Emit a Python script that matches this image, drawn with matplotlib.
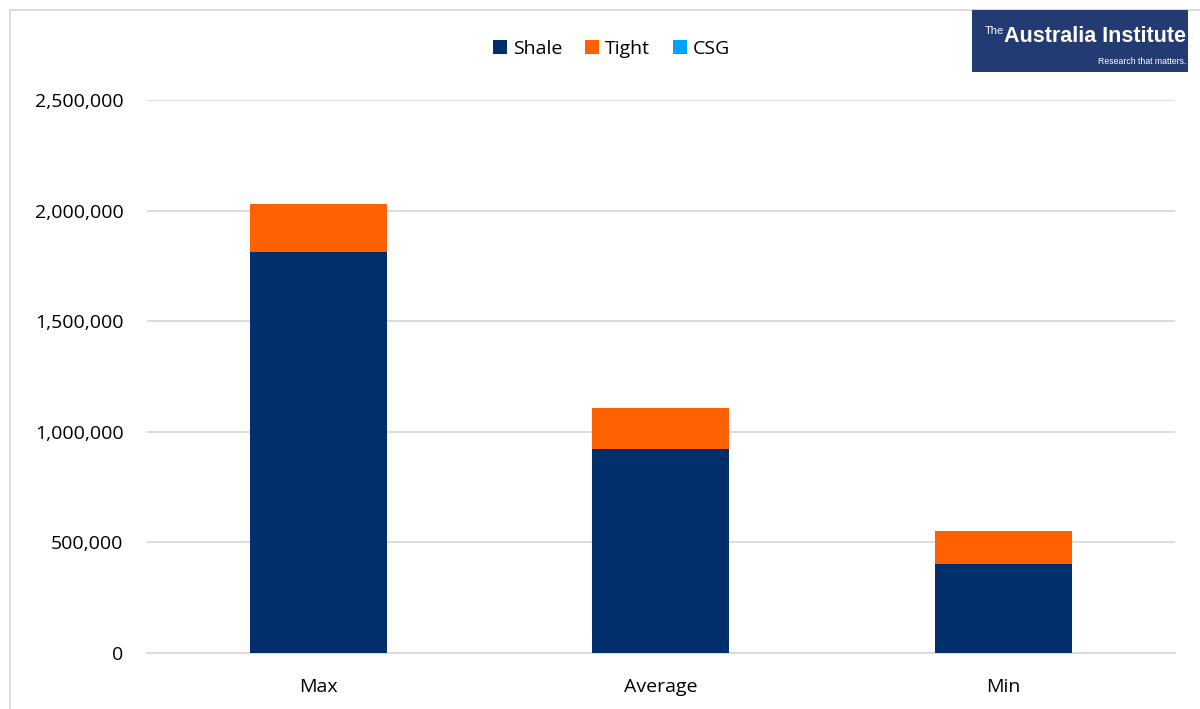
import matplotlib.pyplot as plt
from matplotlib.patches import Rectangle

categories = ['Max', 'Average', 'Min']
shale = [1812000, 922000, 402000]
tight = [217000, 185000, 149000]
csg = [0, 0, 0]

plt.rcParams['font.family'] = ['Open Sans', 'DejaVu Sans']

fig = plt.figure(figsize=(12, 7.09), dpi=100)
ax = fig.add_axes([0.1225, 0.079, 0.8565, 0.78])

x = range(len(categories))
w = 0.4
ax.bar(x, shale, w, color='#002F6C', label='Shale', zorder=3)
ax.bar(x, tight, w, bottom=shale, color='#FF6000', label='Tight', zorder=3)
bottoms = [s + t for s, t in zip(shale, tight)]
ax.bar(x, csg, w, bottom=bottoms, color='#00A2FF', label='CSG', zorder=3)

ax.set_xlim(-0.5, 2.5)
ax.set_ylim(0, 2500000)
ax.set_yticks(range(0, 2500001, 500000))
ax.yaxis.set_major_formatter(plt.FuncFormatter(lambda v, p: f'{int(v):,}'))
ax.set_xticks(list(x))
ax.set_xticklabels(categories)
ax.tick_params(axis='both', length=0, labelsize=14, colors='#000000')
ax.tick_params(axis='y', pad=17)
ax.tick_params(axis='x', pad=18)
ax.grid(axis='y', color='#D9D9D9', linewidth=1.3, zorder=0)
for s in ['top', 'right', 'left']:
    ax.spines[s].set_visible(False)
ax.spines['bottom'].set_color('#D9D9D9')
ax.spines['bottom'].set_linewidth(1.3)

ax.legend(loc='center', bbox_to_anchor=(0.5 - 0.048, 1.092), ncol=3, frameon=False,
          fontsize=14, handlelength=0.7, handleheight=0.7, handletextpad=0.3,
          columnspacing=1.2)

# outer frame
fig.patches.append(Rectangle((10 / 1200, -0.1), 1.2, 1 - 10 / 709 + 0.1,
                             transform=fig.transFigure, fill=False,
                             edgecolor='#D9D9D9', linewidth=1.3))

# logo
fig.patches.append(Rectangle((972 / 1200, 1 - 72 / 709), 216 / 1200, 62 / 709,
                             transform=fig.transFigure, facecolor='#243A73',
                             edgecolor='none', zorder=5))
fig.text(985 / 1200, 1 - 31 / 709, 'The', color='white', fontsize=8,
         family='Liberation Sans', va='center', zorder=6)
fig.text(1186 / 1200, 1 - 37 / 709, 'Australia Institute', color='white', fontsize=15.5,
         family='Liberation Sans', fontweight='bold', ha='right', va='center', zorder=6)
fig.text(1186 / 1200, 1 - 61 / 709, 'Research that matters.', color='white', fontsize=6.3,
         family='Liberation Sans', ha='right', va='center', zorder=6)

fig.savefig('out.png', dpi=100)
